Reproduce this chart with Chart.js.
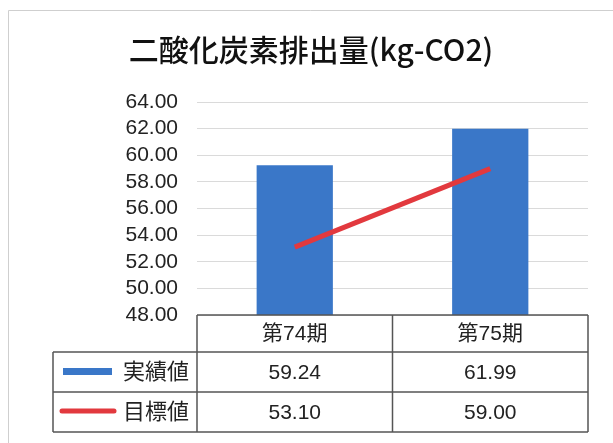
<!DOCTYPE html>
<html>
<head>
<meta charset="utf-8">
<script src="https://cdn.jsdelivr.net/npm/chart.js@4/dist/chart.umd.min.js"></script>
<style>
  html, body { margin: 0; padding: 0; background: #fff; }
  #co2Chart { display: block; }
</style>
</head>
<body>
<canvas id="co2Chart" width="613" height="443"></canvas>
<script>
"use strict";

// Chart data
var periods = ["第74期", "第75期"];
var actualValues = [59.24, 61.99];
var targetValues = [53.10, 59.00];
var seriesNames = ["実績値", "目標値"];
var chartTitle = "二酸化炭素排出量(kg-CO2)";

// Defines colours
var blue = "#3a77c8";
var red = "#e2393e";
var gridGrey = "#dadada";
var tableLine = "#555555";
var textFont = "'Liberation Sans', 'Noto Sans CJK JP', sans-serif";

// Draws the frame, the title and the data table under the plot
var dataTablePlugin = {
    id: "dataTable",
    beforeDraw: function(chart) {
        var ctx = chart.ctx;
        ctx.save();
        ctx.strokeStyle = "#cfcfcf";
        ctx.lineWidth = 1;
        ctx.beginPath();
        ctx.moveTo(8.5, 443);
        ctx.lineTo(8.5, 10.5);
        ctx.lineTo(613, 10.5);
        ctx.stroke();

        ctx.fillStyle = "#111";
        ctx.font = "500 30px 'Noto Sans CJK JP', sans-serif";
        ctx.textAlign = "center";
        ctx.textBaseline = "middle";
        ctx.fillText(chartTitle, 311, 50);
        ctx.restore();
    },
    afterDraw: function(chart) {
        var ctx = chart.ctx;
        var area = chart.chartArea;
        var xs = chart.scales.x;
        var rows = [area.bottom, 352, 392, 432];
        var legendLeft = 53;
        var cols = [area.left];
        for (var i = 0; i < periods.length - 1; i++) {
            cols.push((xs.getPixelForValue(i) + xs.getPixelForValue(i + 1)) / 2);
        }
        cols.push(area.right);

        ctx.save();
        ctx.strokeStyle = tableLine;
        ctx.lineWidth = 1.5;

        // outline and grid of the table
        ctx.beginPath();
        ctx.moveTo(area.left, rows[0]);
        ctx.lineTo(area.right, rows[0]);
        for (var r = 1; r < rows.length; r++) {
            ctx.moveTo(legendLeft, rows[r]);
            ctx.lineTo(area.right, rows[r]);
        }
        ctx.moveTo(legendLeft, rows[1]);
        ctx.lineTo(legendLeft, rows[3]);
        for (var c = 0; c < cols.length; c++) {
            ctx.moveTo(cols[c], rows[0]);
            ctx.lineTo(cols[c], rows[3]);
        }
        ctx.stroke();

        // texts
        ctx.fillStyle = "#222";
        ctx.font = "21px " + textFont;
        ctx.textAlign = "center";
        ctx.textBaseline = "middle";
        for (var p = 0; p < periods.length; p++) {
            var cx = xs.getPixelForValue(p);
            ctx.fillText(periods[p], cx, (rows[0] + rows[1]) / 2 + 1);
            ctx.fillText(actualValues[p].toFixed(2), cx, (rows[1] + rows[2]) / 2 + 1);
            ctx.fillText(targetValues[p].toFixed(2), cx, (rows[2] + rows[3]) / 2 + 1);
        }

        // legend keys
        ctx.textAlign = "right";
        ctx.font = "22px " + textFont;
        ctx.fillText(seriesNames[0], cols[0] - 8, (rows[1] + rows[2]) / 2 + 1);
        ctx.fillText(seriesNames[1], cols[0] - 8, (rows[2] + rows[3]) / 2 + 1);
        ctx.fillStyle = blue;
        ctx.fillRect(63, (rows[1] + rows[2]) / 2 - 4, 49, 7);
        ctx.strokeStyle = red;
        ctx.lineWidth = 5;
        ctx.lineCap = "round";
        ctx.beginPath();
        ctx.moveTo(62, (rows[2] + rows[3]) / 2 - 1);
        ctx.lineTo(114, (rows[2] + rows[3]) / 2 - 1);
        ctx.stroke();
        ctx.restore();
    }
};

function drawChart() {
    var ctx = document.getElementById("co2Chart");
    new Chart(ctx, {
        "type": "bar",
        "data": {
            "labels": periods,
            "datasets": [{
                "type": "line",
                "label": seriesNames[1],
                "data": targetValues,
                "borderColor": red,
                "backgroundColor": red,
                "borderWidth": 5,
                "pointRadius": 0,
                "fill": false,
                "order": 0
            }, {
                "label": seriesNames[0],
                "data": actualValues,
                "backgroundColor": blue,
                "categoryPercentage": 1,
                "barPercentage": 0.39,
                "order": 1
            }]
        },
        "options": {
            "responsive": false,
            "animation": false,
            "layout": { "padding": { "left": 0, "right": 25, "top": 102, "bottom": 128 } },
            "plugins": {
                "legend": { "display": false },
                "tooltip": { "enabled": false },
                "title": { "display": false }
            },
            "scales": {
                "x": {
                    "display": false,
                    "offset": true
                },
                "y": {
                    "min": 48,
                    "max": 64,
                    "border": { "display": false },
                    "grid": { "color": gridGrey, "drawTicks": false },
                    "ticks": {
                        "stepSize": 2,
                        "autoSkip": false,
                        "padding": 19,
                        "color": "#222",
                        "font": { "family": textFont, "size": 21 },
                        "callback": function(v) { return v.toFixed(2); }
                    },
                    "afterFit": function(scale) { scale.width = 197; }
                }
            }
        },
        "plugins": [dataTablePlugin]
    });
}

window.onload = drawChart;
</script>
</body>
</html>
